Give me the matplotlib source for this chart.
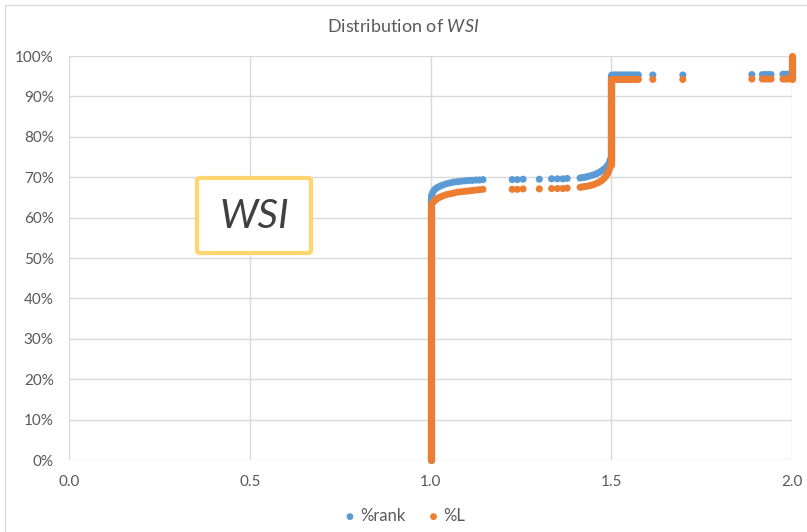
import matplotlib
matplotlib.use("Agg")
import matplotlib.pyplot as plt
from matplotlib.patches import Rectangle, FancyBboxPatch
from matplotlib.ticker import FuncFormatter

plt.rcParams['font.family'] = ['Lato', 'DejaVu Sans']
plt.rcParams['mathtext.fontset'] = 'custom'
plt.rcParams['mathtext.it'] = 'Lato:italic'
plt.rcParams['mathtext.rm'] = 'Lato'

# ---------------- data ----------------
title_text = "Distribution of $\\mathit{WSI}$"
series_names = ["%rank", "%L"]
x_ticks = [0.0, 0.5, 1.0, 1.5, 2.0]
y_ticks = [0, 10, 20, 30, 40, 50, 60, 70, 80, 90, 100]

# %rank (blue) scattered points: WSI value, percent
rank_x = [1.003, 1.006, 1.01, 1.015, 1.02, 1.027, 1.035, 1.045, 1.055, 1.065,
          1.075, 1.085, 1.095, 1.105, 1.115, 1.125, 1.135, 1.145,
          1.226, 1.240, 1.256, 1.301, 1.335, 1.351, 1.366, 1.378,
          1.414, 1.42, 1.428, 1.436, 1.444, 1.452, 1.46, 1.467, 1.474, 1.48,
          1.485, 1.49, 1.494, 1.497,
          1.503, 1.509, 1.515, 1.521, 1.527, 1.533, 1.539, 1.545, 1.551, 1.557,
          1.563, 1.569, 1.575, 1.615, 1.698, 1.889, 1.918, 1.926, 1.934, 1.942,
          1.975, 1.983, 1.99, 2.0]
rank_y = [65.5, 66.2, 66.8, 67.2, 67.5, 67.8, 68.1, 68.4, 68.6, 68.8,
          68.9, 69.0, 69.1, 69.2, 69.2, 69.3, 69.3, 69.4,
          69.4, 69.4, 69.5, 69.5, 69.6, 69.6, 69.6, 69.7,
          69.8, 69.9, 70.0, 70.2, 70.4, 70.6, 70.9, 71.2, 71.6, 72.0,
          72.4, 72.9, 73.5, 74.3,
          95.3, 95.3, 95.3, 95.3, 95.3, 95.3, 95.3, 95.3, 95.3, 95.3,
          95.3, 95.3, 95.3, 95.3, 95.3, 95.4, 95.4, 95.4, 95.4, 95.4,
          95.5, 95.5, 95.5, 95.7]
# vertical runs of tied values: (WSI value, percent from, percent to)
rank_steps = [(1.0, 0.0, 64.8), (1.5, 74.0, 95.3)]

# %L (orange)
L_x = rank_x[:-1]
L_y = [63.2, 63.7, 64.1, 64.5, 64.8, 65.1, 65.4, 65.7, 65.9, 66.1,
       66.3, 66.4, 66.5, 66.6, 66.7, 66.8, 66.9, 67.0,
       67.0, 67.0, 67.1, 67.1, 67.2, 67.2, 67.2, 67.3,
       67.5, 67.6, 67.7, 67.8, 68.0, 68.2, 68.5, 68.8, 69.2, 69.7,
       70.2, 70.9, 71.7, 72.6,
       94.2, 94.2, 94.2, 94.2, 94.2, 94.2, 94.2, 94.2, 94.2, 94.2,
       94.2, 94.2, 94.2, 94.2, 94.2, 94.3, 94.3, 94.3, 94.3, 94.3,
       94.3, 94.3, 94.3]
L_steps = [(1.0, 0.0, 62.5), (1.5, 73.0, 94.2), (2.0, 94.4, 100.0)]

label_box_text = "WSI"

# ---------------- styling ----------------
blue = "#5B9BD5"
orange = "#ED7D31"
grid_c = "#D9D9D9"
text_c = "#595959"

W, H = 807, 532
fig = plt.figure(figsize=(W / 100, H / 100), dpi=100)
ax = fig.add_axes([69 / W, 1 - 460 / H, (792 - 69) / W, (460 - 56) / H])

msize = 26
lw_step = 5.2

def draw(xs, ys, steps, color, z):
    for (sx, y0, y1) in steps:
        ax.plot([sx, sx], [y0, y1], color=color, lw=lw_step,
                solid_capstyle='round', zorder=z, clip_on=False)
    ax.scatter(xs, ys, s=msize, color=color, edgecolors='none',
               zorder=z, clip_on=False)

draw(rank_x, rank_y, rank_steps, blue, 3)
draw(L_x, L_y, L_steps, orange, 4)

ax.set_xlim(0, 2)
ax.set_ylim(0, 100)
ax.set_xticks(x_ticks)
ax.set_yticks(y_ticks)
ax.xaxis.set_major_formatter(FuncFormatter(lambda v, p: f"{v:.1f}"))
ax.yaxis.set_major_formatter(FuncFormatter(lambda v, p: f"{v:.0f}%"))
ax.tick_params(length=0, labelsize=11, labelcolor=text_c)
ax.tick_params(axis='y', pad=11)
ax.tick_params(axis='x', pad=11)
ax.grid(True, color=grid_c, lw=1)
ax.set_axisbelow(True)
for s in ax.spines.values():
    s.set_visible(False)

fig.text(0.5, 1 - 27 / H, title_text, ha='center', va='center',
         fontsize=13, color=text_c)

# legend
h1 = ax.scatter([], [], s=24, color=blue, edgecolors='none')
h2 = ax.scatter([], [], s=24, color=orange, edgecolors='none')
fig.legend([h1, h2], series_names, loc='center', bbox_to_anchor=(0.5, 1 - 516 / H),
           ncol=2, frameon=False, fontsize=12, labelcolor=text_c,
           handletextpad=0.1, columnspacing=1.2, handlelength=1.0)

# outer chart border
fig.patches.append(Rectangle((5 / W, -0.1), 1.2, 1 - 5 / H + 0.1,
                             transform=fig.transFigure, fill=False,
                             edgecolor=grid_c, lw=1))

# WSI label box
box = FancyBboxPatch((197 / W, 1 - 253 / H), 114 / W, 75 / H,
                     boxstyle="round,pad=0,rounding_size=0.004",
                     transform=fig.transFigure, facecolor='white',
                     edgecolor='#FFD56F', lw=3, zorder=5)
fig.patches.append(box)
fig.text(254 / W, 1 - 216 / H, label_box_text, ha='center', va='center',
         fontsize=29, style='italic', color='#404040', zorder=6)

fig.savefig("out.png", dpi=100)
